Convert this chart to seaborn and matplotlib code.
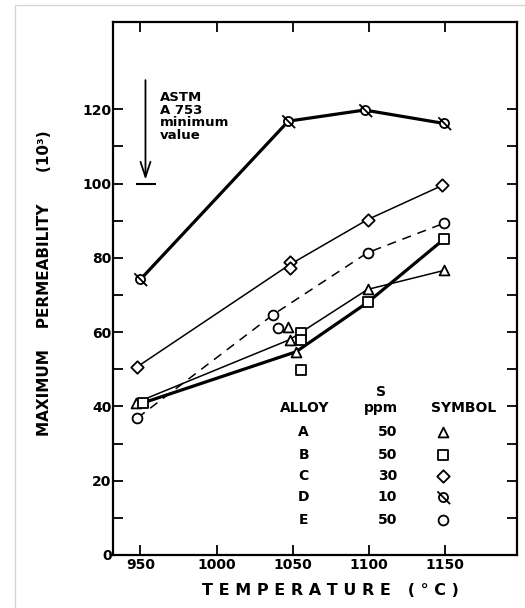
import numpy as np
import pandas as pd
import matplotlib
matplotlib.use("Agg")
import matplotlib.pyplot as plt
import seaborn as sns
from matplotlib.path import Path
from matplotlib.markers import MarkerStyle
from matplotlib.lines import Line2D

# --- data ---
alloys = ["A", "B", "C", "D", "E"]
s_ppm = ["50", "50", "30", "10", "50"]

# lines (temperature degC, max permeability x10^3)
a_line_t = [947, 1048, 1099, 1149]
a_line_p = [41, 58, 71.5, 76.6]
b_line_t = [952, 1052, 1099, 1149]
b_line_p = [41, 54.7, 68, 85]
c_line_t = [948, 1048, 1099, 1148]
c_line_p = [50.7, 78.2, 90.3, 99.5]
d_line_t = [950, 1047, 1097, 1149]
d_line_p = [74.2, 116.8, 119.8, 116.2]
e_line_t = [948, 1037, 1099, 1149]
e_line_p = [36.9, 64.7, 81.4, 89.3]

# measured points (incl. replicates near 1050)
a_pts_t = [947, 1047, 1048, 1052, 1099, 1149]
a_pts_p = [41, 61.5, 58, 54.7, 71.5, 76.6]
b_pts_t = [952, 1055, 1055, 1055.5, 1099, 1149]
b_pts_p = [41, 59.9, 58, 49.9, 68, 85]
c_pts_t = [948, 1048, 1048, 1099, 1148]
c_pts_p = [50.7, 79, 77.4, 90.3, 99.5]
d_pts_t = d_line_t
d_pts_p = d_line_p
e_pts_t = [948, 1037, 1040.5, 1099, 1149]
e_pts_p = [36.9, 64.7, 61, 81.4, 89.3]

# crossed circle marker for alloy D
circ = Path.circle((0, 0), 1.0)
slash = Path([(-1.35, 1.35), (1.45, -1.45)], [Path.MOVETO, Path.LINETO])
d_marker = MarkerStyle(Path.make_compound_path(circ, slash))

sns.set_theme(style="ticks")
plt.rcParams['font.family'] = ['DejaVu Sans']
plt.rcParams['font.weight'] = 'bold'
plt.rcParams['text.color'] = 'black'
plt.rcParams['axes.labelcolor'] = 'black'

fig = plt.figure(figsize=(5.25, 6.08), dpi=100)
ax = fig.add_axes([113 / 525, 1 - 555 / 608, (517 - 113) / 525, (555 - 22) / 608])

thin, thick = 1.1, 2.3
series = [
    (a_line_t, a_line_p, a_pts_t, a_pts_p, "^", thin, "-", 50),
    (b_line_t, b_line_p, b_pts_t, b_pts_p, "s", thick, "-", 45),
    (c_line_t, c_line_p, c_pts_t, c_pts_p, "D", thin, "-", 40),
    (e_line_t, e_line_p, e_pts_t, e_pts_p, "o", thin, (0, (6, 4.5)), 50),
    (d_line_t, d_line_p, d_pts_t, d_pts_p, d_marker, thick, "-", 90),
]
for lt, lp, pt, pp, mk, lw, ls, ms in series:
    sns.lineplot(x=lt, y=lp, ax=ax, color="black", lw=lw, linestyle=ls,
                 sort=False, estimator=None, zorder=2)
    sns.scatterplot(x=pt, y=pp, ax=ax, marker=mk, s=ms, color="white",
                    edgecolor="black", linewidth=1.3, zorder=3)

# ASTM minimum value arrow
ax.annotate("", xy=(953.3, 100.3), xytext=(953.3, 128.6),
            arrowprops=dict(arrowstyle="->,head_length=0.9,head_width=0.3",
                            color="black", lw=1.3))
ax.hlines(100, 947.4, 960.5, color="black", lw=1.5)
ax.text(963, 124.8, "ASTM\nA 753\nminimum\nvalue", fontsize=9.5,
        fontweight="bold", va="top", ha="left", linespacing=0.95)

# legend table
fs = 10
ax.text(1058, 39.6, "ALLOY", ha="center", va="center", fontsize=fs)
ax.text(1108, 43.8, "S", ha="center", va="center", fontsize=fs)
ax.text(1108, 39.6, "ppm", ha="center", va="center", fontsize=fs)
ax.text(1162, 39.6, "SYMBOL", ha="center", va="center", fontsize=fs)
row_y = [33.2, 27.0, 21.3, 15.6, 9.4]
row_mk = ["^", "s", "D", d_marker, "o"]
row_s = [50, 45, 40, 90, 50]
for name, s, y, mk, ms in zip(alloys, s_ppm, row_y, row_mk, row_s):
    ax.text(1057, y, name, ha="center", va="center", fontsize=fs)
    ax.text(1112, y, s, ha="center", va="center", fontsize=fs)
    sns.scatterplot(x=[1148.7], y=[y], ax=ax, marker=mk, s=ms, color="white",
                    edgecolor="black", linewidth=1.3, zorder=3)

ax.set_xlim(932, 1197)
ax.set_ylim(0, 143.5)
ax.set_xticks([950, 1000, 1050, 1100, 1150])
ax.set_yticks(range(0, 121, 20))
ax.set_yticks(range(10, 120, 20), minor=True)
ax.tick_params(which="both", direction="in", length=7, width=1.3,
               top=True, right=True, labelsize=10, pad=2,
               color="black", labelcolor="black")
ax.tick_params(axis="y", pad=1)
for sp in ax.spines.values():
    sp.set_linewidth(1.6)
    sp.set_color("black")

ax.set_xlabel("T E M P E R A T U R E   ( ° C )", fontsize=11.5,
              fontweight="bold")
ax.xaxis.set_label_coords(0.537, -0.052)
ax.set_ylabel("MAXIMUM    PERMEABILITY      (10³)", fontsize=11,
              fontweight="bold")
ax.yaxis.set_label_coords(-0.152, 0.51)

# faint frame of the scanned page
fig.add_artist(Line2D([15 / 525, 15 / 525], [0, 1 - 5 / 608],
                      transform=fig.transFigure, color="#d6d6d6", lw=1))
fig.add_artist(Line2D([15 / 525, 1], [1 - 5 / 608, 1 - 5 / 608],
                      transform=fig.transFigure, color="#d6d6d6", lw=1))

fig.savefig("out.png", dpi=100, facecolor="white")
